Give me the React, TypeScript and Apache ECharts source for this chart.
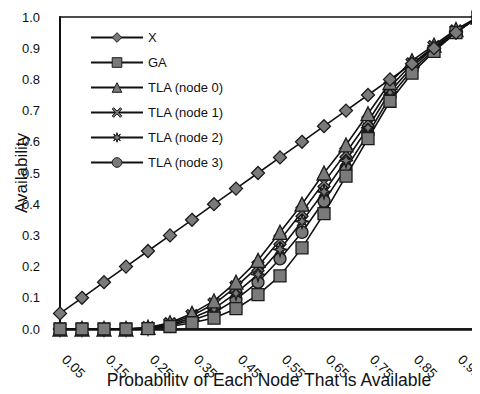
import React, { useEffect, useRef } from "react";
import * as echarts from "echarts";

const categories = ["0.05","0.1","0.15","0.2","0.25","0.3","0.35","0.4","0.45","0.5","0.55","0.6","0.65","0.7","0.75","0.8","0.85","0.9","0.95","1"];
const xLabels = ["0.05","","0.15","","0.25","","0.35","","0.45","","0.55","","0.65","","0.75","","0.85","","0.95",""];
const yTicks = [0, 0.1, 0.2, 0.3, 0.4, 0.5, 0.6, 0.7, 0.8, 0.9, 1.0];

const seriesX = [0.05,0.1,0.15,0.2,0.25,0.3,0.35,0.4,0.45,0.5,0.55,0.6,0.65,0.7,0.75,0.8,0.85,0.9,0.95,1.0];
const seriesGA = [0,0,0,0,0.001,0.008,0.02,0.035,0.065,0.11,0.17,0.26,0.37,0.49,0.61,0.73,0.82,0.89,0.95,1.0];
const seriesTLA0 = [0,0,0,0,0.005,0.02,0.05,0.09,0.15,0.22,0.31,0.4,0.5,0.59,0.69,0.79,0.86,0.91,0.96,1.0];
const seriesTLA1 = [0,0,0,0,0.004,0.017,0.043,0.08,0.135,0.2,0.285,0.375,0.47,0.565,0.665,0.775,0.85,0.905,0.955,1.0];
const seriesTLA2 = [0,0,0,0,0.003,0.014,0.035,0.065,0.115,0.175,0.255,0.345,0.44,0.54,0.645,0.76,0.84,0.9,0.955,1.0];
const seriesTLA3 = [0,0,0,0,0.002,0.011,0.028,0.052,0.095,0.15,0.225,0.31,0.41,0.515,0.625,0.745,0.83,0.895,0.95,1.0];

const names = ["X", "GA", "TLA (node 0)", "TLA (node 1)", "TLA (node 2)", "TLA (node 3)"];

const X_SHAPE = "path://M0,1.5 L1.5,0 L5,3.5 L8.5,0 L10,1.5 L6.5,5 L10,8.5 L8.5,10 L5,6.5 L1.5,10 L0,8.5 L3.5,5 Z";
const STAR_SHAPE = "path://M5,0 L6,3.3 L8.5,1.5 L6.9,4.2 L10,5 L6.9,5.8 L8.5,8.5 L6,6.7 L5,10 L4,6.7 L1.5,8.5 L3.1,5.8 L0,5 L3.1,4.2 L1.5,1.5 L4,3.3 Z";
const symbols = ["diamond", "rect", "triangle", X_SHAPE, STAR_SHAPE, "circle"];
const symbolSizes = [13, 12, 14, 12, 14, 12];

const FONT = "'Liberation Sans Narrow', 'Arial Narrow', 'Liberation Sans', Arial, sans-serif";

export default function App() {
  const ref = useRef<HTMLDivElement>(null);
  useEffect(() => {
    if (!ref.current) return;
    const chart = echarts.init(ref.current, undefined, { renderer: "svg" });
    const data = [seriesX, seriesGA, seriesTLA0, seriesTLA1, seriesTLA2, seriesTLA3];
    chart.setOption({
      animation: false,
      backgroundColor: "#fff",
      textStyle: { fontFamily: FONT },
      grid: {
        left: 60, right: 2, top: 17, bottom: 65,
        outerBoundsMode: "none",
        containLabel: false,
        show: true, borderColor: "#111", borderWidth: 1.5, backgroundColor: "transparent",
      },
      legend: {
        orient: "vertical",
        left: 85, top: 26,
        itemWidth: 52, itemHeight: 12, itemGap: 12,
        textStyle: { fontFamily: FONT, fontSize: 13, color: "#111" },
        data: names.map((n) => ({ name: n, itemStyle: { borderWidth: 1 } })),
      },
      xAxis: {
        type: "category",
        data: categories,
        boundaryGap: false,
        name: "Probability of Each Node That is Available",
        nameLocation: "middle",
        nameGap: 42,
        nameMoveOverlap: false,
        nameTextStyle: { fontFamily: FONT, fontSize: 17.5, color: "#111" },
        axisLine: { lineStyle: { color: "#111", width: 2.5 } },
        axisTick: { show: false },
        splitLine: { show: false },
        axisLabel: {
          interval: 0,
          rotate: -45,
          margin: 24,
          padding: [0, 0, 0, 6],
          fontFamily: FONT,
          fontSize: 13.5,
          color: "#111",
          formatter: (_v: string, i: number) => xLabels[i],
        },
      },
      yAxis: {
        type: "value",
        min: 0, max: 1, interval: 0.1,
        name: "Availability",
        nameLocation: "middle",
        nameGap: 30,
        nameMoveOverlap: false,
        nameTextStyle: { fontFamily: FONT, fontSize: 17, color: "#111" },
        axisLine: { show: true, lineStyle: { color: "#111", width: 2 } },
        axisTick: { show: false },
        splitLine: { show: false },
        axisLabel: {
          margin: 20,
          fontFamily: FONT,
          fontSize: 13,
          color: "#111",
          formatter: (v: number) => {
            const t = yTicks.find((y) => Math.abs(y - v) < 1e-6);
            return (t === undefined ? v : t).toFixed(1);
          },
        },
      },
      series: names.map((n, i) => ({
        name: n,
        type: "line",
        data: data[i],
        symbol: symbols[i],
        symbolSize: symbolSizes[i],
        showAllSymbol: true,
        clip: false,
        z: 10 - i,
        lineStyle: { color: "#111", width: 1.6 },
        itemStyle: { color: "#7a7a7a", borderColor: "#1a1a1a", borderWidth: 1.3 },
      })),
    });
    return () => chart.dispose();
  }, []);
  return <div ref={ref} style={{ width: 480, height: 394, margin: -8 }} />;
}
